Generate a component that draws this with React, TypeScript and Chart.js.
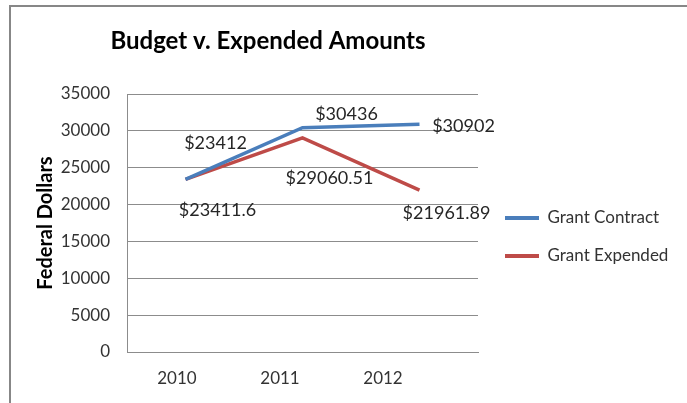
import React, { useEffect, useRef } from "react";
import { Chart, registerables } from "chart.js";

Chart.register(...registerables);

const chartTitle = "Budget v. Expended Amounts";
const yAxisTitle = "Federal Dollars";
const categories = ["2010", "2011", "2012"];
const seriesNames = ["Grant Contract", "Grant Expended"];
const grantContract = [23412, 30436, 30902];
const grantExpended = [23411.6, 29060.51, 21961.89];
const yTickMin = 0;
const yTickMax = 35000;
const yTickStep = 5000;

// label placement offsets (pixels from point), style only
const labelOffsets = [
  [[30, -36], [44, -13], [44, 2]],
  [[32, 31], [27, 40], [27, 23]],
];

const FONT = "Lato, 'Liberation Sans', Arial, sans-serif";
const TEXT = "#333333";
const GRID = "#8c8c8c";
const CANVAS_W = 700;
const CANVAS_H = 403;
const LEGEND_FONT = 17;
const LEGEND_BOX = 34;
const LEGEND_PAD = 21;
const RIGHT_GAP = 6;
const PLOT_RIGHT = 478;

const dataLabelPlugin = {
  id: "dataLabels",
  afterDatasetsDraw(chart: any) {
    const ctx = chart.ctx;
    ctx.save();
    ctx.font = `18px ${FONT}`;
    ctx.fillStyle = "#262626";
    ctx.textAlign = "center";
    ctx.textBaseline = "middle";
    chart.data.datasets.forEach((ds: any, di: number) => {
      const meta = chart.getDatasetMeta(di);
      meta.data.forEach((pt: any, i: number) => {
        const [dx, dy] = labelOffsets[di][i];
        ctx.fillText("$" + String(ds.data[i]), pt.x + dx, pt.y + dy);
      });
    });
    ctx.restore();
  },
};

const titlePlugin = {
  id: "customTitle",
  afterDraw(chart: any) {
    const ctx = chart.ctx;
    ctx.save();
    ctx.font = `bold 24px ${FONT}`;
    ctx.fillStyle = "#000";
    ctx.textAlign = "center";
    ctx.textBaseline = "alphabetic";
    ctx.fillText(chartTitle, chart.chartArea.left + 141, 49);
    ctx.restore();
  },
};

export default function App() {
  const ref = useRef<HTMLCanvasElement | null>(null);
  useEffect(() => {
    if (!ref.current) return;
    const mctx = document.createElement("canvas").getContext("2d") as CanvasRenderingContext2D;
    mctx.font = `${LEGEND_FONT}px ${FONT}`;
    const tw = Math.max(...seriesNames.map((n) => mctx.measureText(n).width));
    const legendW = LEGEND_PAD + LEGEND_BOX + LEGEND_FONT / 2 + tw + 10;
    const padRight = Math.max(0, CANVAS_W - PLOT_RIGHT - RIGHT_GAP - legendW);

    const chart = new Chart(ref.current, {
      type: "line",
      data: {
        labels: categories,
        datasets: [
          {
            label: seriesNames[0],
            data: grantContract,
            borderColor: "#4a7ebb",
            backgroundColor: "#4a7ebb",
            borderWidth: 3.5,
            pointRadius: 0,
            pointHoverRadius: 0,
            tension: 0,
          },
          {
            label: seriesNames[1],
            data: grantExpended,
            borderColor: "#be4b48",
            backgroundColor: "#be4b48",
            borderWidth: 3.5,
            pointRadius: 0,
            pointHoverRadius: 0,
            tension: 0,
          },
        ],
      },
      options: {
        responsive: false,
        animation: false,
        events: [],
        layout: { padding: { top: 71, left: 0, right: padRight, bottom: 0 } },
        plugins: {
          title: { display: false },
          tooltip: { enabled: false },
          legend: {
            display: true,
            position: "right",
            maxWidth: 400,
            labels: {
              font: { family: FONT, size: LEGEND_FONT },
              color: TEXT,
              boxWidth: LEGEND_BOX,
              boxHeight: 4,
              padding: LEGEND_PAD,
              generateLabels: (c: any) =>
                Chart.defaults.plugins.legend.labels
                  .generateLabels(c)
                  .map((l: any) => ({ ...l, lineWidth: 0, strokeStyle: "transparent" })),
            },
          },
        },
        scales: {
          x: {
            type: "category",
            offset: true,
            display: false,
          },
          xTop: {
            type: "linear",
            position: "top",
            display: true,
            grid: { display: false, drawTicks: false },
            border: { display: false },
            ticks: { display: false },
            afterFit: (s: any) => {
              s.height = 23;
            },
          },
          x2: {
            type: "linear",
            position: "bottom",
            min: -0.485,
            max: 2.922,
            grid: { display: false, drawTicks: false },
            border: { display: true, color: GRID, width: 1 },
            afterBuildTicks: (s: any) => {
              s.ticks = categories.map((_, i) => ({ value: i }));
            },
            ticks: {
              autoSkip: false,
              maxRotation: 0,
              padding: 16,
              color: TEXT,
              font: { family: FONT, size: 17 },
              callback: (v: any) => categories[Math.round(Number(v))] ?? "",
            },
            afterFit: (s: any) => {
              s.height = 51;
            },
          },
          y: {
            type: "linear",
            position: "left",
            min: yTickMin,
            max: yTickMax,
            ticks: {
              stepSize: yTickStep,
              padding: 17,
              color: TEXT,
              font: { family: FONT, size: 17 },
              callback: (v: any) => String(v),
            },
            grid: { color: GRID, lineWidth: 1, drawTicks: false },
            border: { display: true, color: GRID, width: 1 },
            title: {
              display: true,
              text: yAxisTitle,
              color: "#000",
              font: { family: FONT, size: 20, weight: "bold" },
              padding: { top: 34, bottom: 0 },
            },
            afterFit: (s: any) => {
              s.width = 127;
            },
          },
          yR: {
            type: "linear",
            position: "right",
            display: true,
            grid: { display: false, drawTicks: false },
            border: { display: false },
            ticks: { display: false },
            afterFit: (s: any) => {
              s.width = RIGHT_GAP;
            },
          },
        },
      },
      plugins: [dataLabelPlugin, titlePlugin],
    } as any);
    return () => chart.destroy();
  }, []);

  return (
    <div
      style={{
        position: "absolute",
        left: 0,
        top: 0,
        width: 687,
        height: 403,
        overflow: "hidden",
        background: "#fff",
      }}
    >
      <canvas ref={ref} width={CANVAS_W} height={CANVAS_H} style={{ display: "block" }} />
      <div
        style={{
          position: "absolute",
          left: 9,
          top: 5,
          width: 700,
          height: 420,
          borderLeft: "2px solid #878787",
          borderTop: "2px solid #878787",
          pointerEvents: "none",
        }}
      />
    </div>
  );
}
